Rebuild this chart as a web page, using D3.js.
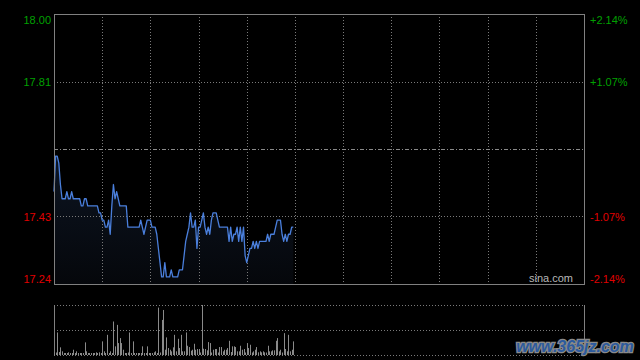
<!DOCTYPE html>
<html><head><meta charset="utf-8">
<script src="https://cdn.jsdelivr.net/npm/d3@7"></script>
<style>html,body{margin:0;padding:0;background:#000;}svg{display:block;}</style>
</head><body>
<svg id="c" width="640" height="360"></svg>
<script>
const prevClose = 17.62;
const priceDomain = [17.24, 18.00];
const sessionMinutes = 330;
const gridMinutes = [30,60,90,120,150,180,210,240,270,300];
const priceTicks = [18.00, 17.81, 17.43, 17.24];
const priceTickLabels = ["18.00","17.81","17.43","17.24"];
const pctTickLabels = ["+2.14%","+1.07%","-1.07%","-2.14%"];
const prices = [
17.50,17.60,17.60,17.58,17.52,17.48,17.48,17.48,17.50,17.48,
17.48,17.50,17.48,17.48,17.48,17.48,17.48,17.46,17.46,17.48,
17.48,17.46,17.46,17.46,17.46,17.46,17.46,17.46,17.44,17.44,
17.42,17.42,17.40,17.40,17.42,17.38,17.46,17.52,17.48,17.50,
17.48,17.46,17.46,17.46,17.46,17.46,17.40,17.40,17.40,17.40,
17.40,17.40,17.40,17.40,17.42,17.40,17.38,17.40,17.42,17.42,
17.42,17.40,17.40,17.40,17.38,17.34,17.30,17.26,17.26,17.30,
17.26,17.26,17.26,17.28,17.26,17.26,17.26,17.26,17.28,17.28,
17.28,17.32,17.36,17.38,17.40,17.44,17.40,17.40,17.42,17.34,
17.40,17.40,17.42,17.44,17.40,17.38,17.40,17.38,17.42,17.44,
17.44,17.44,17.42,17.40,17.40,17.40,17.40,17.40,17.40,17.36,
17.40,17.36,17.38,17.38,17.40,17.36,17.40,17.36,17.40,17.32,
17.30,17.32,17.34,17.34,17.36,17.34,17.36,17.34,17.36,17.36,
17.36,17.36,17.36,17.38,17.36,17.38,17.38,17.38,17.40,17.42,
17.42,17.42,17.38,17.36,17.38,17.36,17.38,17.38,17.40,17.40];
const volumes = [
2,1.5,21.7,2,6.7,2.7,1,1,1,1.7,
1,1,4.3,1,2.7,1,1,1,1,11.7,
2.7,1,1,1,1,1,1.7,1,1.7,1,
12.7,2.7,1,19.3,1,2.7,1,32.7,7.7,29.3,
11,16,11,4.3,1,1,1.5,21.7,1,12.7,
1,1,1,1,1,7.7,1,1,7.7,1,
1,1,1.7,2.7,1,46.7,1.5,34.3,44.3,4.3,
16.7,6,4.3,2.7,6.7,19.3,2.7,15.3,6,19.3,
2.7,2.7,21.7,8.3,7,3.3,4.3,10.3,4.3,5,
5,1.5,49.3,5.3,5,3.7,12,11,1.5,4.3,
5,5,1.5,7,7,2.7,4.3,4.3,6,13.3,
2,7.7,7.7,7,2.7,2.7,8.3,4.3,5,1.5,
11,6,9.3,1.5,2.7,4.3,7,1.7,2.7,1.7,
2.7,1.7,1.5,8.3,2.7,2.7,3.7,3.7,13.3,16,
2.7,4.3,1.5,21,5,2.7,19.3,2.7,4.3,12.7];

const svg = d3.select("#c");
const L = 54, R = 584, T = 14, B = 284, VT = 305, VB = 355;
const x = d3.scaleLinear().domain([0, sessionMinutes]).range([L, R]);
const y = d3.scaleLinear().domain(priceDomain).range([B, T]);
const yv = d3.scaleLinear().domain([0, d3.max(volumes)]).range([VB - 1, VT]);
const gridCol = "#7a7a7a";

svg.append("rect").attr("width",640).attr("height",360).attr("fill","#000");

// area gradient
const defs = svg.append("defs");
const grad = defs.append("linearGradient").attr("id","ag").attr("x1",0).attr("y1",0).attr("x2",0).attr("y2",1);
grad.append("stop").attr("offset","0%").attr("stop-color","#0d1522");
grad.append("stop").attr("offset","100%").attr("stop-color","#05070b");

const area = d3.area().x((d,i)=>x(i)).y0(B).y1(d=>y(d));
svg.append("path").datum(prices).attr("d",area).attr("fill","url(#ag)");

// vertical grid
svg.append("g").selectAll("line").data(gridMinutes).join("line")
  .attr("x1",d=>Math.round(x(d))+0.5).attr("x2",d=>Math.round(x(d))+0.5)
  .attr("y1",T).attr("y2",B)
  .attr("stroke",gridCol).attr("stroke-width",1).attr("stroke-dasharray","1,2");

// horizontal grid
svg.append("g").selectAll("line").data([priceTicks[1], priceTicks[2]]).join("line")
  .attr("x1",L).attr("x2",R)
  .attr("y1",d=>Math.round(y(d))+0.5).attr("y2",d=>Math.round(y(d))+0.5)
  .attr("stroke",gridCol).attr("stroke-width",1).attr("stroke-dasharray","1,2");
svg.append("line").attr("x1",L).attr("x2",R)
  .attr("y1",Math.round(y(prevClose))+0.5).attr("y2",Math.round(y(prevClose))+0.5)
  .attr("stroke","#8a8a8a").attr("stroke-width",1).attr("stroke-dasharray","4,2,1,2");

// price line
const line = d3.line().x((d,i)=>x(i)).y(d=>y(d));
svg.append("path").datum(prices).attr("d",line).attr("fill","none")
  .attr("stroke","#4a7fdc").attr("stroke-width",1.3).attr("stroke-linejoin","round");

// price border
svg.append("rect").attr("x",L+0.5).attr("y",T+0.5).attr("width",R-L).attr("height",B-T)
  .attr("fill","none").attr("stroke","#808080").attr("stroke-width",1);

// labels
const lab = svg.append("g").style("font-family","'Liberation Sans', Arial, sans-serif").style("font-size","11px");
priceTicks.forEach((p,k)=>{
  let cy = y(p);
  if (k===0) cy += 6;
  if (k===priceTicks.length-1) cy -= 5.5;
  const col = p > prevClose ? "#00a000" : "#e00000";
  lab.append("text").attr("x",51).attr("y",cy+4).attr("text-anchor","end").attr("fill",col).text(priceTickLabels[k]);
  lab.append("text").attr("x",590).attr("y",cy+4).attr("text-anchor","start").attr("fill",col).text(pctTickLabels[k]);
});

// sina.com
svg.append("text").attr("x",573).attr("y",282).attr("text-anchor","end")
  .style("font-family","'Liberation Sans', Arial, sans-serif").style("font-size","11px")
  .attr("fill","#b8b8b8").text("sina.com");

// volume panel
const vg = svg.append("g");
[VT, (VT+VB)/2, VB].forEach(v=>{
  vg.append("line").attr("x1",L).attr("x2",R).attr("y1",Math.round(v)+0.5).attr("y2",Math.round(v)+0.5)
    .attr("stroke",gridCol).attr("stroke-width",1).attr("stroke-dasharray","1,2");
});
vg.append("line").attr("x1",L+0.5).attr("x2",L+0.5).attr("y1",VT).attr("y2",VB+1).attr("stroke","#808080");
vg.append("line").attr("x1",R+0.5).attr("x2",R+0.5).attr("y1",VT).attr("y2",VB+1).attr("stroke","#808080");
vg.selectAll("rect.v").data(volumes).join("rect").attr("class","v")
  .attr("x",(d,i)=>Math.round(x(i))).attr("width",1)
  .attr("y",d=>yv(d)).attr("height",d=>VB - yv(d))
  .attr("fill","#8a8a8a");

// watermark
svg.append("text").attr("x",575).attr("y",352).attr("text-anchor","middle")
  .style("font-family","'Liberation Sans', Arial, sans-serif").style("font-size","16px")
  .style("font-weight","bold").style("font-style","italic")
  .attr("fill","#2c5a9e").attr("stroke","#8a8a8a").attr("stroke-width",2.5)
  .style("paint-order","stroke").text("www.365jz.com");
</script>
</body></html>
